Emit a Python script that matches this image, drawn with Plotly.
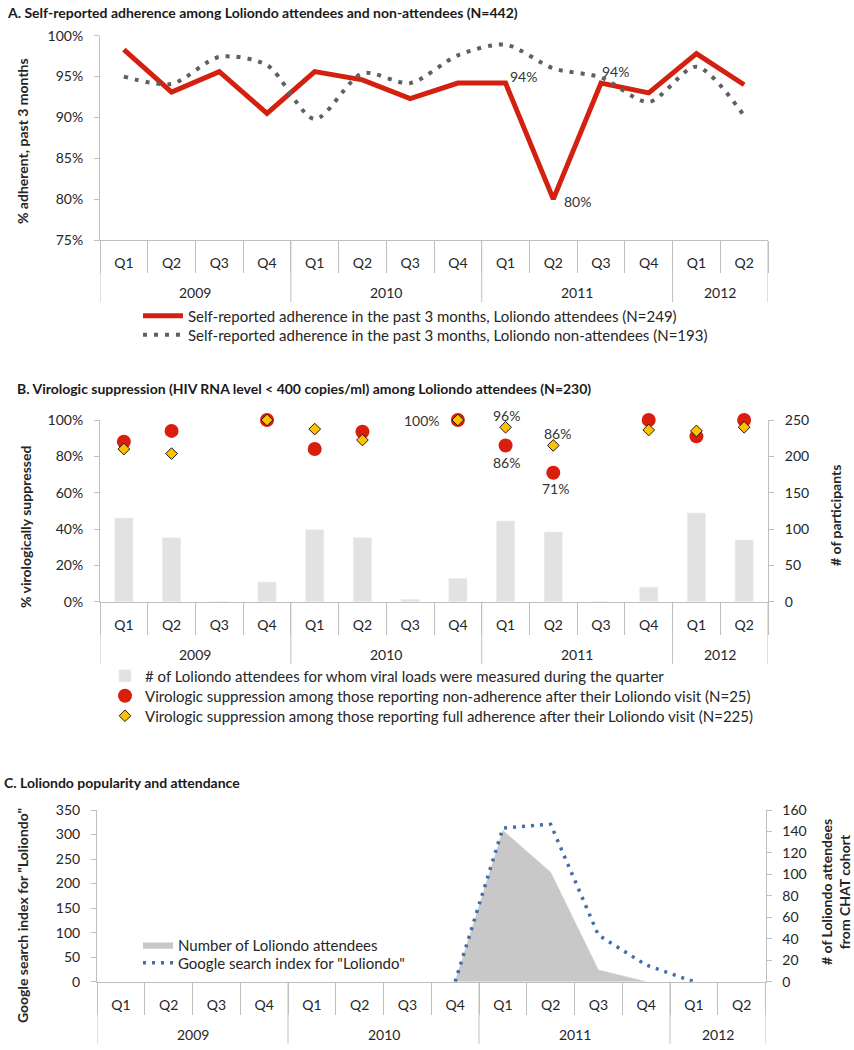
import plotly.graph_objects as go

# ---------------- data ----------------
years = ["2009"] * 4 + ["2010"] * 4 + ["2011"] * 4 + ["2012"] * 2
quarters = ["Q1", "Q2", "Q3", "Q4"] * 3 + ["Q1", "Q2"]

# Panel A: self-reported adherence (%)
attendees_adh = [98.3, 93.1, 95.6, 90.5, 95.6, 94.6, 92.3, 94.2, 94.2, 80.0, 94.2, 93.0, 97.8, 94.0]
nonattendees_adh = [95.0, 94.1, 97.4, 96.4, 89.8, 95.4, 94.2, 97.6, 98.9, 96.0, 94.9, 91.9, 96.2, 90.2]

# Panel B: virologic suppression
vl_counts = [115, 88, 0, 27, 99, 88, 3, 32, 111, 96, 0, 20, 122, 85]
supp_nonadherent = [88, 94, None, 100, 84, 93.5, None, 100, 86, 71, None, 100, 91, 100]
supp_adherent = [84, 81.5, None, 100, 95, 89, None, 100, 96, 86, None, 94.5, 94, 96]

# Panel C: popularity and attendance
attendee_counts = [None] * 7 + [0, 141, 102, 11, 0, None, None]
google_index = [None] * 7 + [0, 313, 321, 95, 34, 0, None]

# category positions derived from the quarter list
idx = list(range(len(quarters)))
boundaries = [i - 0.5 for i in idx] + [idx[-1] + 0.5]
groups = []
for i, yv in enumerate(years):
    if not groups or groups[-1][0] != yv:
        groups.append([yv, i, i])
    else:
        groups[-1][2] = i

FONT = "Lato"
TXT = "#262626"
AXC = "#bfbfbf"

W, H = 854, 1050


def px_x(v):
    return v / W


def px_y(v):
    return 1 - v / H


fig = go.Figure()

# ---- Panel A ----
fig.add_trace(go.Scatter(
    x=idx, y=attendees_adh, mode="lines", xaxis="x", yaxis="y", cliponaxis=False,
    line=dict(color="#d4200e", width=5),
    name="Self-reported adherence in the past 3 months, Loliondo attendees (N=249)",
    legend="legend"))
fig.add_trace(go.Scatter(
    x=idx, y=nonattendees_adh, mode="lines", xaxis="x", yaxis="y", cliponaxis=False,
    line=dict(color="#606060", width=4, dash="4px,7px", shape="spline", smoothing=0.8),
    name="Self-reported adherence in the past 3 months, Loliondo non-attendees (N=193)",
    legend="legend2"))

# ---- Panel B ----
fig.add_trace(go.Bar(
    x=idx, y=vl_counts, xaxis="x2", yaxis="y2", marker=dict(color="#e2e2e2"),
    name="# of Loliondo attendees for whom viral loads were measured during the quarter",
    legend="legend3"))
fig.add_trace(go.Scatter(
    x=idx, y=supp_nonadherent, mode="markers", xaxis="x2", yaxis="y3", cliponaxis=False,
    marker=dict(color="#d91e0e", size=14, symbol="circle"),
    name="Virologic suppression among those reporting non-adherence after their Loliondo visit (N=25)",
    legend="legend4"))
fig.add_trace(go.Scatter(
    x=idx, y=supp_adherent, mode="markers", xaxis="x2", yaxis="y3", cliponaxis=False,
    marker=dict(color="#ffc000", size=9, symbol="diamond", line=dict(color="#1a1a1a", width=1)),
    name="Virologic suppression among those reporting full adherence after their Loliondo visit (N=225)",
    legend="legend5"))

# ---- Panel C ----
fig.add_trace(go.Scatter(
    x=idx, y=attendee_counts, mode="lines", xaxis="x3", yaxis="y4",
    fill="tozeroy", fillcolor="#c8c8c8", line=dict(color="#c8c8c8", width=0.5),
    name="Number of Loliondo attendees", legend="legend6"))
fig.add_trace(go.Scatter(
    x=idx, y=google_index, mode="lines", xaxis="x3", yaxis="y5", cliponaxis=False,
    line=dict(color="#3e6fa8", width=3.5, dash="3px,6px"),
    name='Google search index for "Loliondo"', legend="legend7"))


def xcat(domain, anchor):
    return dict(
        domain=domain, anchor=anchor, type="linear", range=[-0.5, 13.5], automargin=False,
        showline=True, linecolor=AXC, linewidth=1,
        tickmode="array", tickvals=idx, ticktext=quarters, ticks="",
        ticklabelstandoff=10,
        minor=dict(tickmode="array", tickvals=boundaries, ticks="outside", ticklen=32,
                   tickcolor=AXC, tickwidth=1, showgrid=False),
        tickfont=dict(size=14, color=TXT), showgrid=False, zeroline=False,
        fixedrange=True)


def yax(domain, rng, dtick, suffix="", side="left", anchor=None, overlaying=None):
    d = dict(
        domain=domain, range=rng, dtick=dtick, ticksuffix=suffix, side=side,
        automargin=False, showline=True, linecolor=AXC, linewidth=1,
        ticks="outside", ticklen=5, tickcolor=AXC, showgrid=False, zeroline=False,
        ticklabelstandoff=8,
        tickfont=dict(size=14, color=TXT))
    if anchor:
        d["anchor"] = anchor
    if overlaying:
        d["overlaying"] = overlaying
    return d


xdomAB = [px_x(100), px_x(768)]
xdomC = [px_x(97), px_x(765.5)]


def leg(xp, yp):
    return dict(x=px_x(xp), y=px_y(yp), xanchor="left", yanchor="middle",
                font=dict(size=15, color=TXT, family=FONT), bgcolor="rgba(0,0,0,0)",
                tracegroupgap=0, traceorder="normal", borderwidth=0)


legA1 = leg(138, 316)
legA1["itemwidth"] = 40
legA2 = leg(138, 335)
legA2["itemwidth"] = 40

# plot areas (pixel top, bottom)
A_top, A_bot = 35.7, 240
B_top, B_bot = 420, 601.7
C_top, C_bot = 810, 981.7

fig.update_layout(
    width=W, height=H, margin=dict(l=0, r=0, t=0, b=0, autoexpand=False),
    paper_bgcolor="white", plot_bgcolor="white",
    font=dict(family=FONT, size=14, color=TXT),
    bargap=0.62,
    xaxis=xcat(xdomAB, "y"),
    yaxis=yax([px_y(A_bot), px_y(A_top)], [75, 100], 5, "%", anchor="x"),
    xaxis2=xcat(xdomAB, "y2"),
    yaxis2=yax([px_y(B_bot), px_y(B_top)], [0, 250], 50, side="right", anchor="x2"),
    yaxis3=yax([px_y(B_bot), px_y(B_top)], [0, 100], 20, "%", side="left", anchor="x2",
               overlaying="y2"),
    xaxis3=xcat(xdomC, "y4"),
    yaxis4=yax([px_y(C_bot), px_y(C_top)], [0, 160], 20, side="right", anchor="x3"),
    yaxis5=yax([px_y(C_bot), px_y(C_top)], [0, 350], 50, side="left", anchor="x3",
               overlaying="y4"),
    legend=legA1,
    legend2=legA2,
    legend3=leg(105, 676),
    legend4=leg(105, 696),
    legend5=leg(105, 716),
    legend6=leg(138, 945),
    legend7=leg(138, 963),
    showlegend=True,
)

# year labels and year dividers on each category axis
for xa, ya, top, bot in [("x", "y", A_top, A_bot), ("x2", "y2", B_top, B_bot),
                         ("x3", "y4", C_top, C_bot)]:
    ph = bot - top
    for name, s, e in groups:
        fig.add_annotation(x=(s + e) / 2, y=0, xref=xa, yref=ya + " domain", text=name,
                           showarrow=False, yanchor="middle", yshift=-53,
                           font=dict(size=14, color=TXT))
    for b in [g[1] - 0.5 for g in groups] + [groups[-1][2] + 0.5]:
        fig.add_shape(type="line", x0=b, x1=b, y0=0, y1=-62 / ph, xref=xa,
                      yref=ya + " domain", line=dict(color=AXC, width=1))

# Panel titles
titles = [
    (5, 12, "A. Self-reported adherence among Loliondo attendees and non-attendees (N=442)"),
    (15, 388, "B. Virologic suppression (HIV RNA level < 400 copies/ml) among Loliondo attendees (N=230)"),
    (2, 782, "C. Loliondo popularity and attendance"),
]
for tx, ty, t in titles:
    fig.add_annotation(x=px_x(tx), y=px_y(ty), xref="paper", yref="paper", text="<b>" + t + "</b>",
                       showarrow=False, xanchor="left", yanchor="middle",
                       font=dict(size=14, color="#1a1a1a", family=FONT))

# Axis titles
axis_titles = [
    (22, 141, "% adherent, past 3 months"),
    (25, 527, "% virologically suppressed"),
    (835, 516, "# of participants"),
    (22, 916, 'Google search index for "Loliondo"'),
    (835, 892, "# of Loliondo attendees<br>from CHAT cohort"),
]
for tx, ty, t in axis_titles:
    fig.add_annotation(x=px_x(tx), y=px_y(ty), xref="paper", yref="paper", text="<b>" + t + "</b>",
                       showarrow=False, xanchor="center", yanchor="middle", textangle=-90,
                       font=dict(size=14, color=TXT, family=FONT))


def pct(v):
    return f"{round(v)}%"


# Data labels
labels = [
    ("x", "y", 8, attendees_adh[8], 18, 7),
    ("x", "y", 10, attendees_adh[10], 14, 12),
    ("x", "y", 9, attendees_adh[9], 24, -2),
    ("x2", "y3", 7, supp_nonadherent[7], -36, 0),
    ("x2", "y3", 8, supp_adherent[8], 1, 12),
    ("x2", "y3", 8, supp_nonadherent[8], 1, -17),
    ("x2", "y3", 9, supp_adherent[9], 4, 12),
    ("x2", "y3", 9, supp_nonadherent[9], 2, -16),
]
for xr, yr, i, v, dx, dy in labels:
    fig.add_annotation(x=i, y=v, xref=xr, yref=yr, text=pct(v), showarrow=False,
                       xshift=dx, yshift=dy, font=dict(size=14, color="#333333"))

# the page's default 8px body margin would push the fixed-size figure off the window
fig.write_html("out.html", config={"displayModeBar": False},
               post_script="document.body.style.margin='0px';")
